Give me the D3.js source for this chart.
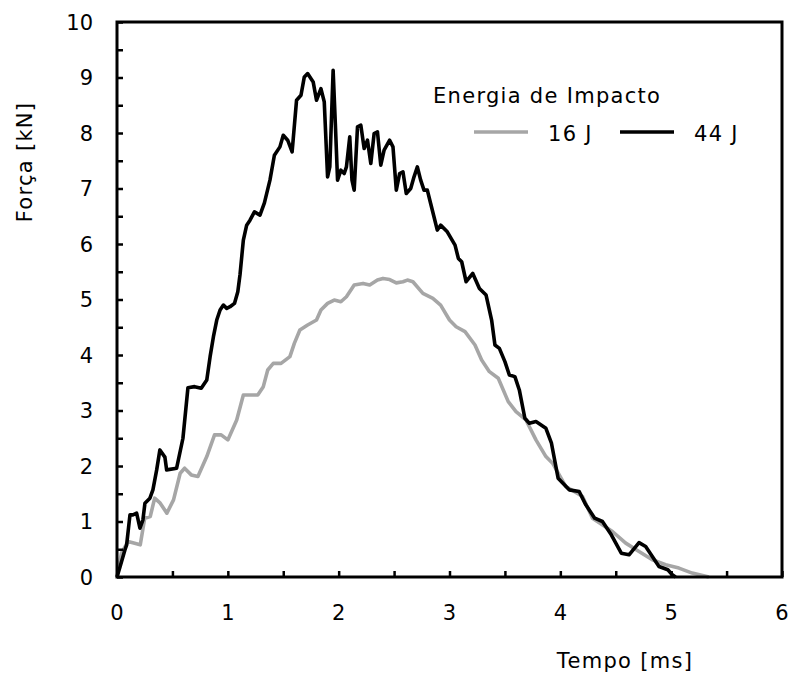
<!DOCTYPE html>
<meta charset="utf-8">
<style>
body { margin: 0; background: #fff; }
text { font-family: "DejaVu Sans", sans-serif; fill: #000; }
.ticklabel { font-size: 21px; }
.title { font-size: 21px; letter-spacing: 1.3px; }
</style>
<svg width="791" height="677"></svg>
<script src="https://d3js.org/d3.v7.min.js"></script>
<script>
// time [ms] and force [kN]
var t44 = [0,0.027,0.072,0.087,0.117,0.144,0.177,0.207,0.234,0.252,0.297,0.324,0.358,0.387,0.432,0.448,0.538,0.595,0.64,0.70,0.76,0.81,0.84,0.87,0.90,0.93,0.96,0.99,1.02,1.06,1.09,1.11,1.14,1.17,1.20,1.24,1.29,1.33,1.38,1.42,1.47,1.50,1.54,1.58,1.62,1.66,1.69,1.72,1.77,1.80,1.84,1.87,1.90,1.92,1.95,1.97,1.99,2.02,2.05,2.07,2.10,2.12,2.14,2.17,2.20,2.23,2.26,2.29,2.32,2.35,2.38,2.41,2.46,2.49,2.52,2.55,2.58,2.61,2.65,2.68,2.71,2.74,2.77,2.80,2.83,2.86,2.89,2.92,2.98,3.05,3.08,3.11,3.15,3.21,3.27,3.33,3.38,3.41,3.45,3.50,3.54,3.59,3.63,3.68,3.72,3.78,3.87,3.92,3.96,3.98,4.08,4.17,4.23,4.31,4.38,4.46,4.55,4.62,4.71,4.77,4.89,4.97,5.01,5.04];
var f44 = [0,0.18,0.49,0.58,1.12,1.12,1.15,0.88,1.03,1.33,1.42,1.57,1.93,2.29,2.16,1.93,1.96,2.50,3.41,3.43,3.40,3.55,3.97,4.33,4.63,4.81,4.90,4.84,4.87,4.93,5.14,5.45,6.07,6.34,6.43,6.58,6.52,6.74,7.15,7.6,7.75,7.96,7.87,7.66,8.59,8.68,9.01,9.07,8.92,8.59,8.80,8.56,7.21,7.39,9.13,8.17,7.15,7.33,7.27,7.39,7.93,7.15,6.97,8.11,8.14,7.72,7.87,7.45,7.99,8.02,7.42,7.69,7.87,7.75,6.97,7.27,7.30,6.91,7.00,7.21,7.39,7.15,6.97,6.97,6.73,6.49,6.25,6.34,6.22,5.98,5.74,5.68,5.32,5.47,5.20,5.08,4.63,4.18,4.12,3.88,3.64,3.61,3.37,2.86,2.77,2.80,2.68,2.41,1.99,1.78,1.57,1.54,1.30,1.06,1.00,0.76,0.43,0.40,0.62,0.55,0.19,0.13,0.04,0];

var t16 = [0,0.04,0.10,0.21,0.25,0.30,0.34,0.39,0.45,0.51,0.57,0.61,0.67,0.73,0.81,0.88,0.94,1.00,1.08,1.14,1.23,1.27,1.32,1.36,1.41,1.48,1.56,1.60,1.65,1.72,1.80,1.84,1.90,1.96,2.02,2.07,2.14,2.22,2.28,2.35,2.40,2.46,2.52,2.58,2.62,2.67,2.76,2.85,2.92,3.00,3.06,3.14,3.23,3.29,3.36,3.44,3.53,3.60,3.69,3.78,3.87,3.93,4.05,4.20,4.29,4.47,4.59,4.71,4.83,4.95,5.07,5.19,5.34];
var f16 = [0,0.43,0.64,0.58,1.06,1.09,1.42,1.33,1.15,1.39,1.87,1.96,1.84,1.81,2.17,2.56,2.56,2.47,2.83,3.28,3.28,3.28,3.43,3.73,3.85,3.85,3.97,4.21,4.45,4.54,4.63,4.81,4.93,4.99,4.96,5.05,5.26,5.29,5.26,5.35,5.38,5.36,5.30,5.32,5.35,5.32,5.11,5.02,4.90,4.63,4.51,4.42,4.18,3.91,3.70,3.58,3.16,2.98,2.83,2.47,2.17,2.05,1.63,1.45,1.06,0.82,0.61,0.46,0.31,0.22,0.16,0.07,0];

var seriesNames = ["16 J", "44 J"];
var seriesColors = ["#a6a6a6", "#000000"];
var xTicks = [0,1,2,3,4,5,6];
var yTicks = [0,1,2,3,4,5,6,7,8,9,10];

var svg = d3.select("svg");

var x = d3.scaleLinear().domain([0, 6]).range([117, 782]);
var y = d3.scaleLinear().domain([0, 10]).range([577, 22]);

var line = d3.line()
             .x(d => x(d[0]))
             .y(d => y(d[1]));

var series = [d3.zip(t16, f16), d3.zip(t44, f44)];

svg.selectAll(".curve")
   .data(series)
   .enter().append("path")
     .attr("class", "curve")
     .attr("fill", "none")
     .attr("stroke", (d, i) => seriesColors[i])
     .attr("stroke-width", 3.6)
     .attr("stroke-linejoin", "round")
     .attr("d", line);

// inside ticks every 0.5
var bottomAxis = d3.axisBottom(x).tickValues(d3.range(0, 6.01, 0.5)).tickSize(-6).tickFormat("");
var leftAxis = d3.axisLeft(y).tickValues(d3.range(0, 10.01, 0.5)).tickSize(-6).tickFormat("");

svg.append("g")
   .attr("transform", "translate(0," + y(0) + ")")
   .call(bottomAxis)
   .call(g => g.select(".domain").remove())
   .selectAll("line").attr("stroke", "#000").attr("stroke-width", 2.5);

svg.append("g")
   .attr("transform", "translate(" + x(0) + ",0)")
   .call(leftAxis)
   .call(g => g.select(".domain").remove())
   .selectAll("line").attr("stroke", "#000").attr("stroke-width", 2.5);

// frame
svg.append("rect")
   .attr("x", x(0))
   .attr("y", y(10))
   .attr("width", x(6) - x(0))
   .attr("height", y(0) - y(10))
   .attr("fill", "none")
   .attr("stroke", "#000")
   .attr("stroke-width", 3);

svg.selectAll(".xlab")
   .data(xTicks)
   .enter().append("text")
     .attr("class", "ticklabel")
     .attr("text-anchor", "middle")
     .attr("x", d => x(d))
     .attr("y", 620)
     .text(d => d);

svg.selectAll(".ylab")
   .data(yTicks)
   .enter().append("text")
     .attr("class", "ticklabel")
     .attr("text-anchor", "end")
     .attr("x", 93)
     .attr("y", d => y(d) + 7.5)
     .text(d => d);

svg.append("text")
   .attr("class", "title")
   .attr("text-anchor", "middle")
   .attr("x", 625)
   .attr("y", 668)
   .text("Tempo [ms]");

svg.append("text")
   .attr("class", "title")
   .attr("text-anchor", "middle")
   .attr("transform", "translate(32,162) rotate(-90)")
   .text("Força [kN]");

// legend
svg.append("text")
   .attr("class", "title")
   .attr("x", 433)
   .attr("y", 103)
   .text("Energia de Impacto");

var legendX = [474, 620];
var legend = svg.selectAll(".legend")
                .data(seriesNames)
                .enter().append("g")
                  .attr("transform", (d, i) => "translate(" + legendX[i] + ",132)");
legend.append("line")
        .attr("x2", 54)
        .attr("stroke", (d, i) => seriesColors[i])
        .attr("stroke-width", 3.6);
legend.append("text")
        .attr("class", "title")
        .attr("x", 74)
        .attr("y", 9)
        .text(d => d);
</script>
